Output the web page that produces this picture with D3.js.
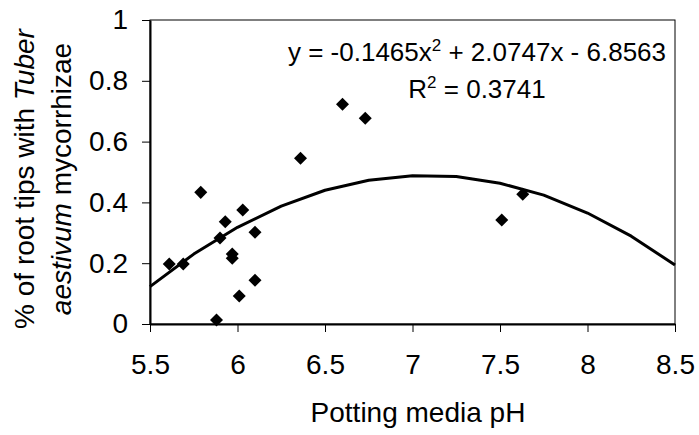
<!DOCTYPE html>
<html>
<head>
<meta charset="utf-8">
<script src="https://cdn.jsdelivr.net/npm/d3@7"></script>
<style>
  body { margin: 0; background: #fff; }
  svg { display: block; font-family: "Liberation Sans", Arial, sans-serif; }
</style>
</head>
<body>
<svg id="chart" width="699" height="435"></svg>
<script>
// точки наблюдений: pH субстрата и доля микоризных кончиков
const phValues = [5.61, 5.69, 5.79, 5.88, 5.90, 5.93, 5.97, 5.97, 6.03, 6.01, 6.10, 6.10, 6.36, 6.60, 6.73, 7.51, 7.63];
const tipShares = [0.197, 0.197, 0.433, 0.013, 0.283, 0.336, 0.230, 0.216, 0.375, 0.092, 0.302, 0.144, 0.545, 0.723, 0.677, 0.342, 0.427];

// линия тренда (полином 2-й степени), точки
const trendX = [5.5, 5.75, 6.0, 6.25, 6.5, 6.75, 7.0, 7.25, 7.5, 7.75, 8.0, 8.25, 8.5];
const trendY = [0.123, 0.230, 0.318, 0.388, 0.440, 0.473, 0.488, 0.485, 0.463, 0.424, 0.365, 0.289, 0.194];

const xTicks = [5.5, 6, 6.5, 7, 7.5, 8, 8.5];
const yTicks = [0, 0.2, 0.4, 0.6, 0.8, 1];

const eqText = "y = -0.1465x";
const eqTail = " + 2.0747x - 6.8563";
const r2Value = "0.3741";

const svg = d3.select("#chart");

const area = { left: 150, right: 675, top: 20, bottom: 324 };

const scX = d3.scaleLinear().domain([5.5, 8.5]).range([area.left, area.right]);
const scY = d3.scaleLinear().domain([0, 1]).range([area.bottom, area.top]);

// рамка области построения
svg.append("rect")
    .attr("x", area.left)
    .attr("y", area.top)
    .attr("width", area.right - area.left)
    .attr("height", area.bottom - area.top)
    .attr("fill", "none")
    .attr("stroke", "#000")
    .attr("stroke-width", 1);

// оси
const axisX = svg.append("g")
    .attr("transform", `translate(0, ${area.bottom})`)
    .call(d3.axisBottom(scX).tickValues(xTicks).tickSize(8).tickSizeOuter(0).tickPadding(22).tickFormat(d3.format("")));

const axisY = svg.append("g")
    .attr("transform", `translate(${area.left}, 0)`)
    .call(d3.axisLeft(scY).tickValues(yTicks).tickSize(8).tickSizeOuter(0).tickPadding(14).tickFormat(d3.format("")));

[axisX, axisY].forEach(g => {
    g.select(".domain").attr("stroke", "#000").attr("stroke-width", 2);
    g.selectAll(".tick line").attr("stroke", "#000").attr("stroke-width", 1);
    g.selectAll(".tick text")
        .attr("fill", "#000")
        .style("font-size", "28px")
        .style("font-family", "'Liberation Sans', Arial, sans-serif");
});

// линия тренда
const line = d3.line()
    .x((d, i) => scX(trendX[i]))
    .y(d => scY(d));

svg.append("path")
    .datum(trendY)
    .attr("d", line)
    .attr("fill", "none")
    .attr("stroke", "#000")
    .attr("stroke-width", 3)
    .attr("stroke-linejoin", "round");

// точки - ромбы
const diamond = d3.symbol().type(d3.symbolDiamond2).size(108);

svg.selectAll(".dot")
    .data(phValues)
    .enter()
    .append("path")
    .attr("class", "dot")
    .attr("d", diamond)
    .attr("transform", (d, i) => `translate(${scX(d)}, ${scY(tipShares[i])})`)
    .attr("fill", "#000");

// уравнение и R^2 (по центру одной вертикали)
const eq = svg.append("text")
    .attr("x", 477)
    .attr("y", 61)
    .attr("text-anchor", "middle")
    .style("font-size", "26px");
eq.append("tspan").text(eqText);
eq.append("tspan").attr("dy", -10).style("font-size", "17px").text("2");
eq.append("tspan").attr("dy", 10).text(eqTail);

const r2 = svg.append("text")
    .attr("x", 477)
    .attr("y", 98)
    .attr("text-anchor", "middle")
    .style("font-size", "26px");
r2.append("tspan").text("R");
r2.append("tspan").attr("dy", -10).style("font-size", "17px").text("2");
r2.append("tspan").attr("dy", 10).text(" = " + r2Value);

// подписи осей
svg.append("text")
    .attr("x", 418)
    .attr("y", 422)
    .attr("text-anchor", "middle")
    .style("font-size", "28px")
    .text("Potting media pH");

const yTitle = svg.append("text")
    .attr("transform", "translate(34, 179) rotate(-90)")
    .attr("text-anchor", "middle")
    .style("font-size", "28px");
yTitle.append("tspan").attr("x", 0).attr("dy", 0).text("% of root tips with ")
    .append("tspan").style("font-style", "italic").text("Tuber");
const line2 = yTitle.append("tspan").attr("x", 0).attr("dy", 37);
line2.append("tspan").style("font-style", "italic").text("aestivum");
line2.append("tspan").text(" mycorrhizae");
</script>
</body>
</html>
